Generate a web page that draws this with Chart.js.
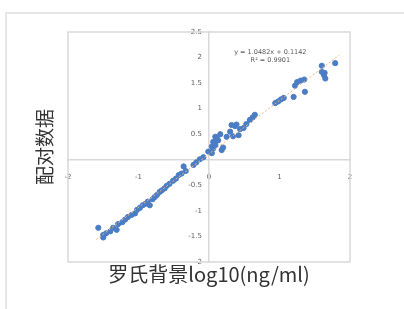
<!DOCTYPE html>
<html>
<head>
<meta charset="utf-8">
<script src="https://cdn.jsdelivr.net/npm/chart.js@4/dist/chart.umd.min.js"></script>
<style>
  html, body { margin: 0; padding: 0; background: #fff; }
  #frame {
    position: absolute; left: 5px; top: 12px; width: 410px; height: 310px;
    border-top: 2px solid #e6e6e6; border-left: 2px solid #e6e6e6;
  }
  #wrap { position: absolute; left: 0; top: 0; width: 404px; height: 309px; }
</style>
</head>
<body>
<div id="frame"></div>
<div id="wrap"><canvas id="chart" width="404" height="309"></canvas></div>
<script>
  const xValues = [
    -1.57, -1.50, -1.50, -1.46, -1.40, -1.36, -1.31, -1.29, -1.23, -1.19,
    -1.15, -1.10, -1.05, -1.02, -0.98, -0.94, -0.90, -0.87, -0.84, -0.80,
    -0.77, -0.74, -0.70, -0.67, -0.63, -0.60, -0.56, -0.51, -0.47, -0.43,
    -0.39, -0.36, -0.33, -0.22, -0.18, -0.13, -0.08,
    -0.01, 0.04, 0.04, 0.06, 0.06, 0.09, 0.09, 0.11, 0.13, 0.16,
    0.18, 0.20, 0.25, 0.30, 0.32, 0.34, 0.37, 0.39, 0.42, 0.44,
    0.49, 0.53, 0.58, 0.62, 0.65, 0.94, 0.98, 1.02, 1.06, 1.20,
    1.22, 1.25, 1.30, 1.35, 1.36, 1.60, 1.60, 1.63, 1.65, 1.64, 1.79
  ];
  const yValues = [
    -1.33, -1.52, -1.47, -1.44, -1.40, -1.33, -1.37, -1.26, -1.22, -1.17,
    -1.12, -1.08, -1.05, -0.98, -0.94, -0.89, -0.86, -0.82, -0.89, -0.77,
    -0.73, -0.69, -0.63, -0.60, -0.56, -0.51, -0.47, -0.41, -0.37, -0.30,
    -0.27, -0.13, -0.22, -0.10, -0.05, 0.01, 0.05,
    0.16, 0.13, 0.26, 0.22, 0.35, 0.29, 0.45, 0.42, 0.38, 0.50,
    0.19, 0.24, 0.45, 0.55, 0.68, 0.46, 0.66, 0.69, 0.48, 0.60,
    0.62, 0.70, 0.78, 0.83, 0.88, 1.11, 1.14, 1.18, 1.21, 1.23,
    1.45, 1.52, 1.55, 1.57, 1.33, 1.72, 1.84, 1.66, 1.59, 1.70, 1.89
  ];

  // trendline end points as drawn
  const trendX = [-1.6, 1.85];
  const trendY = [-1.56, 2.05];
  const equationLines = ['y = 1.0482x + 0.1142', 'R² = 0.9901'];

  const xTickValues = [-2, -1, 0, 1, 2];
  const xTickLabels = ['-2', '-1', '0', '1', '2'];
  const yTickValues = [-2, -1.5, -1, -0.5, 0, 0.5, 1, 1.5, 2, 2.5];
  const yTickLabels = ['-2', '-1.5', '-1', '-0.5', '', '0.5', '1', '1.5', '2', '2.5'];

  const xTitle = '罗氏背景log10(ng/ml)';
  const yTitle = '配对数据';

  const points = xValues.map((x, i) => ({ x, y: yValues[i] }));
  const trend = trendX.map((x, i) => ({ x, y: trendY[i] }));

  const plotBox = {
    id: 'plotBox',
    beforeDatasetsDraw(chart) {
      const { ctx, chartArea: a } = chart;
      ctx.save();
      ctx.strokeStyle = '#d9d9d9';
      ctx.lineWidth = 1.5;
      ctx.strokeRect(a.left, a.top, a.right - a.left, a.bottom - a.top);
      ctx.restore();
    }
  };

  const equationLabel = {
    id: 'equationLabel',
    afterDatasetsDraw(chart) {
      const { ctx, scales } = chart;
      const cx = scales.x.getPixelForValue(0.87);
      const cy = scales.y.getPixelForValue(2.1);
      ctx.save();
      ctx.font = '6.5px "DejaVu Sans", sans-serif';
      ctx.fillStyle = '#595959';
      ctx.textAlign = 'center';
      ctx.textBaseline = 'middle';
      equationLines.forEach((line, i) => ctx.fillText(line, cx, cy + i * 8));
      ctx.restore();
    }
  };

  const tickFont = { family: '"DejaVu Sans", sans-serif', size: 7 };
  const titleFamily = '"Noto Sans CJK SC", "Noto Sans", sans-serif';

  new Chart(document.getElementById('chart'), {
    type: 'scatter',
    data: {
      datasets: [
        {
          label: 'trend',
          type: 'line',
          data: trend,
          borderColor: '#f4b183',
          borderWidth: 1,
          borderDash: [2, 2],
          pointRadius: 0,
          order: 0
        },
        {
          label: 'paired',
          data: points,
          backgroundColor: '#4a7dc4',
          borderColor: '#4a7dc4',
          pointRadius: 2.6,
          order: 1
        }
      ]
    },
    options: {
      responsive: false,
      animation: false,
      layout: { padding: { left: 33.6, right: 54, top: 32, bottom: 23 } },
      plugins: {
        legend: { display: false },
        tooltip: { enabled: false },
        title: {
          display: true,
          text: xTitle,
          position: 'bottom',
          fullSize: false,
          color: '#333',
          font: { family: titleFamily, size: 20, weight: 'normal' },
          padding: { top: 0, bottom: 0 }
        },
        subtitle: {
          display: true,
          text: yTitle,
          position: 'left',
          fullSize: false,
          color: '#333',
          font: { family: titleFamily, size: 19, weight: 'normal' },
          padding: { top: 0, bottom: 11.6 }
        }
      },
      scales: {
        x: {
          type: 'linear',
          position: { y: 0 },
          min: -2,
          max: 2,
          afterBuildTicks: (s) => { s.ticks = xTickValues.map((v) => ({ value: v })); },
          ticks: {
            padding: 13,
            color: '#5f5f5f',
            font: tickFont,
            callback: (v, i) => xTickLabels[i]
          },
          grid: { display: false, drawTicks: false },
          border: { color: '#d9d9d9', width: 1.5 }
        },
        y: {
          type: 'linear',
          position: { x: 0 },
          min: -2,
          max: 2.5,
          afterBuildTicks: (s) => { s.ticks = yTickValues.map((v) => ({ value: v })); },
          ticks: {
            color: '#5f5f5f',
            font: tickFont,
            // labels sit flush on the axis line here, so pad them with en spaces
            callback: (v, i) => yTickLabels[i] ? yTickLabels[i] + '\u2002\u2002' : ''
          },
          grid: { display: false, drawTicks: false },
          border: { color: '#d9d9d9', width: 1.5 }
        }
      }
    },
    plugins: [plotBox, equationLabel]
  });
</script>
</body>
</html>
